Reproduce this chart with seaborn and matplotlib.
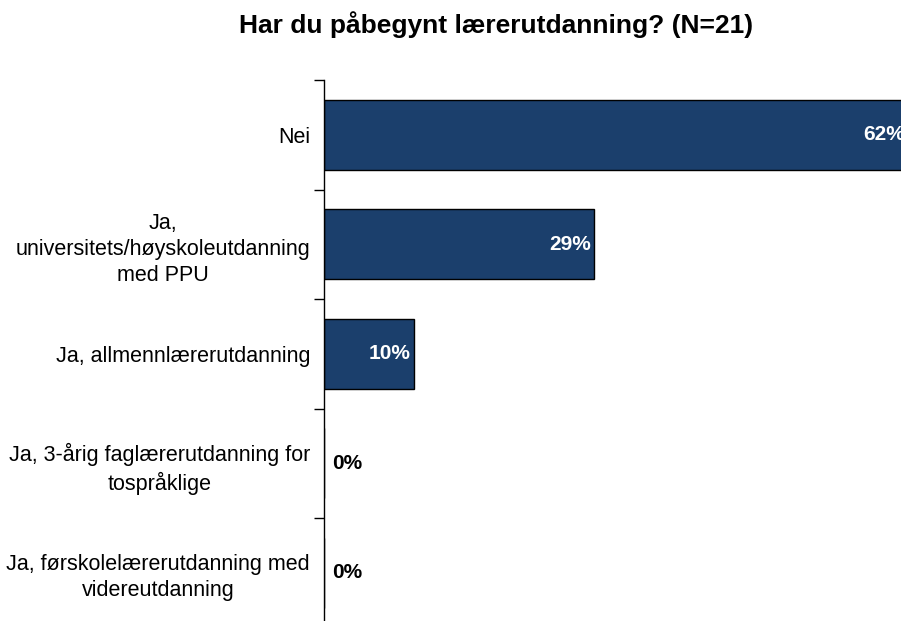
import numpy as np
import pandas as pd
import seaborn as sns
import matplotlib.pyplot as plt
from matplotlib.ticker import FixedLocator

# data
categories = [
    'Nei',
    'Ja,\nuniversitets/høyskoleutdanning\nmed PPU',
    'Ja, allmennlærerutdanning',
    'Ja, 3-årig faglærerutdanning for\ntospråklige',
    'Ja, førskolelærerutdanning med\nvidereutdanning',
]
percent = [61.9, 28.6, 9.5, 0.0, 0.0]
value_labels = ['62%', '29%', '10%', '0%', '0%']
title = 'Har du påbegynt lærerutdanning? (N=21)'

sns.set_style('white')
plt.rcParams['font.family'] = ['Liberation Sans', 'DejaVu Sans']
plt.rcParams['text.color'] = 'black'

df = pd.DataFrame({'kategori': categories, 'prosent': percent})

fig = plt.figure(figsize=(9.01, 6.21), dpi=100)
ax = fig.add_axes([0.3596, -0.0105, 0.6404, 0.8816])

sns.barplot(data=df, x='prosent', y='kategori', orient='h', color='#1B3F6C',
            saturation=1, edgecolor='black', linewidth=1.0, width=0.64, ax=ax)

ax.set_xlim(0, 61.06)
ax.set_ylim(len(categories) - 0.5, -0.5)
ax.set_xlabel('')
ax.set_ylabel('')
ax.set_xticks([])

for s in ['top', 'right', 'bottom']:
    ax.spines[s].set_visible(False)
ax.spines['left'].set_color('black')
ax.spines['left'].set_linewidth(1.0)

# category separators as outward ticks, labels without ticks
ax.yaxis.set_minor_locator(FixedLocator(np.arange(len(categories)) - 0.5))
ax.tick_params(axis='y', which='minor', left=True, length=7, width=1, color='black', direction='out')
ax.tick_params(axis='y', which='major', left=False, length=0, pad=10)
for lbl in ax.get_yticklabels():
    lbl.set_fontsize(15.5)
    lbl.set_multialignment('center')
    lbl.set_linespacing(1.32)
    lbl.set_color('black')

for i, (v, t) in enumerate(zip(percent, value_labels)):
    if v > 0:
        ax.annotate(t, (v, i), xytext=(-2.6, 0), textcoords='offset points',
                    ha='right', va='center', color='white', fontsize=15,
                    fontweight='bold', annotation_clip=False)
    else:
        ax.annotate(t, (0, i), xytext=(6, 0), textcoords='offset points',
                    ha='left', va='center', color='black', fontsize=15,
                    fontweight='bold')

fig.text(0.5505, 1 - 33 / 621, title, ha='center', va='baseline', fontsize=19,
         fontweight='bold', color='black')

fig.savefig('out.png', dpi=100)
